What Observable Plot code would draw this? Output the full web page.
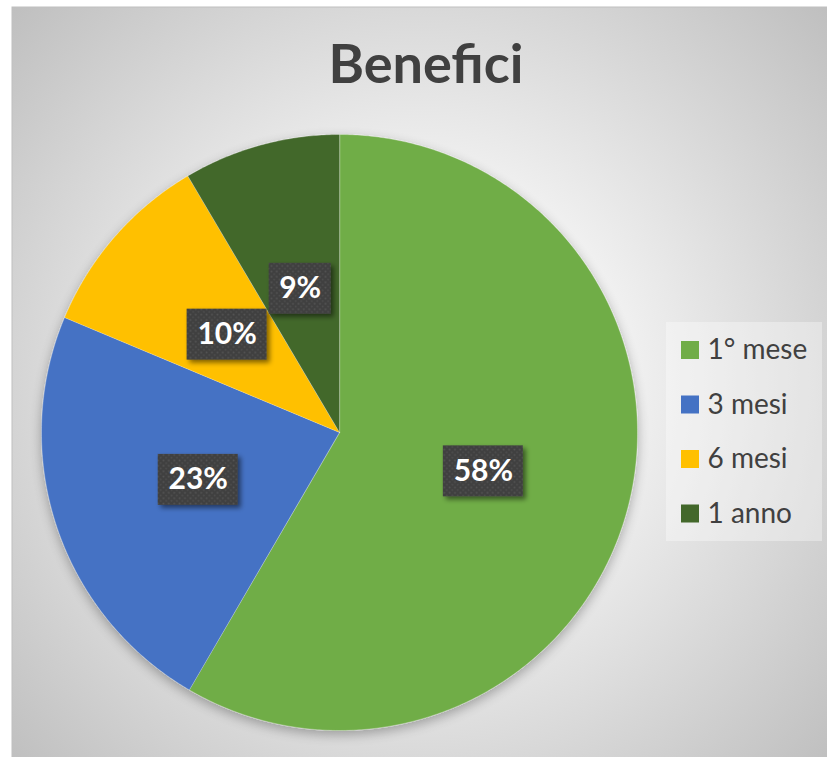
<!DOCTYPE html>
<html>
<head>
<meta charset="utf-8">
<script src="https://cdn.jsdelivr.net/npm/d3@7"></script>
<script src="https://cdn.jsdelivr.net/npm/@observablehq/plot@0.6"></script>
<style>
  html, body { margin: 0; padding: 0; background: #ffffff; }
  #chart svg { display: block; }
</style>
</head>
<body>
<div id="chart"></div>
<script>
// ---- data ----
const title = "Benefici";
const categories = ["1° mese", "3 mesi", "6 mesi", "1 anno"];
const values = [58.4, 22.9, 10.2, 8.5];
const colors = ["#70AD47", "#4472C4", "#FFC000", "#43682B"];

// ---- layout helpers (pixel -> unit circle coordinates) ----
const W = 827, H = 757, CX = 339, CY = 432, R = 298;
const ux = p => (p - CX) / R;
const uy = p => (CY - p) / R;

const total = d3.sum(values);
const slices = [];
let acc = 0;
categories.forEach((c, i) => {
  const a0 = acc / total * 2 * Math.PI;
  acc += values[i];
  const a1 = acc / total * 2 * Math.PI;
  slices.push({cat: c, value: values[i], a0, a1, mid: (a0 + a1) / 2});
});

const piePts = [];
for (const s of slices) {
  piePts.push({cat: s.cat, x: 0, y: 0});
  const n = Math.max(2, Math.ceil((s.a1 - s.a0) / (Math.PI / 360)));
  for (let k = 0; k <= n; k++) {
    const a = s.a0 + (s.a1 - s.a0) * k / n;
    piePts.push({cat: s.cat, x: Math.sin(a), y: Math.cos(a)});
  }
}

const labels = slices.map(s => {
  const txt = Math.round(s.value / total * 100) + "%";
  const w = (18 * txt.length + 26) / 2 / R;
  const h = 25.5 / R;
  const x = 0.5 * Math.sin(s.mid), y = 0.5 * Math.cos(s.mid);
  return {txt, x, y, x1: x - w, x2: x + w, y1: y - h, y2: y + h};
});

const legend = categories.map((c, i) => {
  const yc = 350 + 54.5 * i;
  return {cat: c, x1: ux(681), x2: ux(699), y1: uy(yc - 9), y2: uy(yc + 9), tx: ux(707), ty: uy(yc)};
});

const svg = Plot.plot({
  width: W, height: H,
  margin: 0,
  x: {domain: [ux(0), ux(W)], range: [0, W], axis: null},
  y: {domain: [uy(H), uy(0)], range: [H, 0], axis: null},
  color: {domain: categories, range: colors},
  style: {background: "transparent", fontFamily: "Lato, 'Open Sans', sans-serif"},
  marks: [
    Plot.frame({fill: "url(#bg)", stroke: "#bfbfbf", insetLeft: 11.5, insetTop: 6.5, insetRight: -5, insetBottom: -5}),
    Plot.text([title], {frameAnchor: "top", dx: 12, dy: 44, lineAnchor: "top", fontSize: 54, fontWeight: "bold", fill: "#404040"}),
    Plot.line(piePts, {x: "x", y: "y", z: "cat", fill: "cat", stroke: "#ffffff", strokeOpacity: 0.35, strokeWidth: 0.8, curve: "linear-closed"}),
    Plot.rect(labels, {x1: "x1", x2: "x2", y1: "y1", y2: "y2", fill: "url(#dots)"}),
    Plot.text(labels, {x: "x", y: "y", text: "txt", fill: "#ffffff", fontSize: 30, fontWeight: "bold"}),
    Plot.rect([0], {x1: ux(666), x2: ux(822), y1: uy(541), y2: uy(322), fill: "#ffffff", fillOpacity: 0.35}),
    Plot.rect(legend, {x1: "x1", x2: "x2", y1: "y1", y2: "y2", fill: "cat"}),
    Plot.text(legend, {x: "tx", y: "ty", text: "cat", textAnchor: "start", fontSize: 28, fill: "#404040"})
  ]
});

const s = d3.select(svg);
const defs = s.insert("defs", ":first-child");
const g = defs.append("radialGradient").attr("id", "bg").attr("gradientUnits", "userSpaceOnUse")
  .attr("cx", 419).attr("cy", 385).attr("r", 570);
g.append("stop").attr("offset", "0").attr("stop-color", "#ffffff");
g.append("stop").attr("offset", "0.35").attr("stop-color", "#f2f2f2");
g.append("stop").attr("offset", "1").attr("stop-color", "#bdbdbd");
const p = defs.append("pattern").attr("id", "dots").attr("patternUnits", "userSpaceOnUse")
  .attr("width", 5.4).attr("height", 5.4);
p.append("rect").attr("width", 5.4).attr("height", 5.4).attr("fill", "#404040");
p.append("rect").attr("x", 0.6).attr("y", 0.6).attr("width", 1.6).attr("height", 1.6).attr("fill", "#555555");
p.append("rect").attr("x", 3.3).attr("y", 3.3).attr("width", 1.6).attr("height", 1.6).attr("fill", "#4f4f4f");

function shadowFilter(id, dx, dy, blur, opacity) {
  const f = defs.append("filter").attr("id", id).attr("filterUnits", "userSpaceOnUse")
    .attr("x", 0).attr("y", 0).attr("width", W).attr("height", H);
  f.append("feGaussianBlur").attr("in", "SourceAlpha").attr("stdDeviation", blur).attr("result", "b");
  f.append("feOffset").attr("in", "b").attr("dx", dx).attr("dy", dy).attr("result", "o");
  f.append("feComponentTransfer").attr("in", "o").attr("result", "t")
    .append("feFuncA").attr("type", "linear").attr("slope", opacity);
  const m = f.append("feMerge");
  m.append("feMergeNode").attr("in", "t");
  m.append("feMergeNode").attr("in", "SourceGraphic");
}
shadowFilter("pieShadow", 0, 4, 6, 0.3);
shadowFilter("boxShadow", 3, 3, 2.5, 0.5);

s.select("g[aria-label=line]").attr("filter", "url(#pieShadow)");
const rects = s.selectAll("g[aria-label=rect]").nodes();
if (rects.length) rects[0].setAttribute("filter", "url(#boxShadow)");

document.getElementById("chart").appendChild(svg);
</script>
</body>
</html>
